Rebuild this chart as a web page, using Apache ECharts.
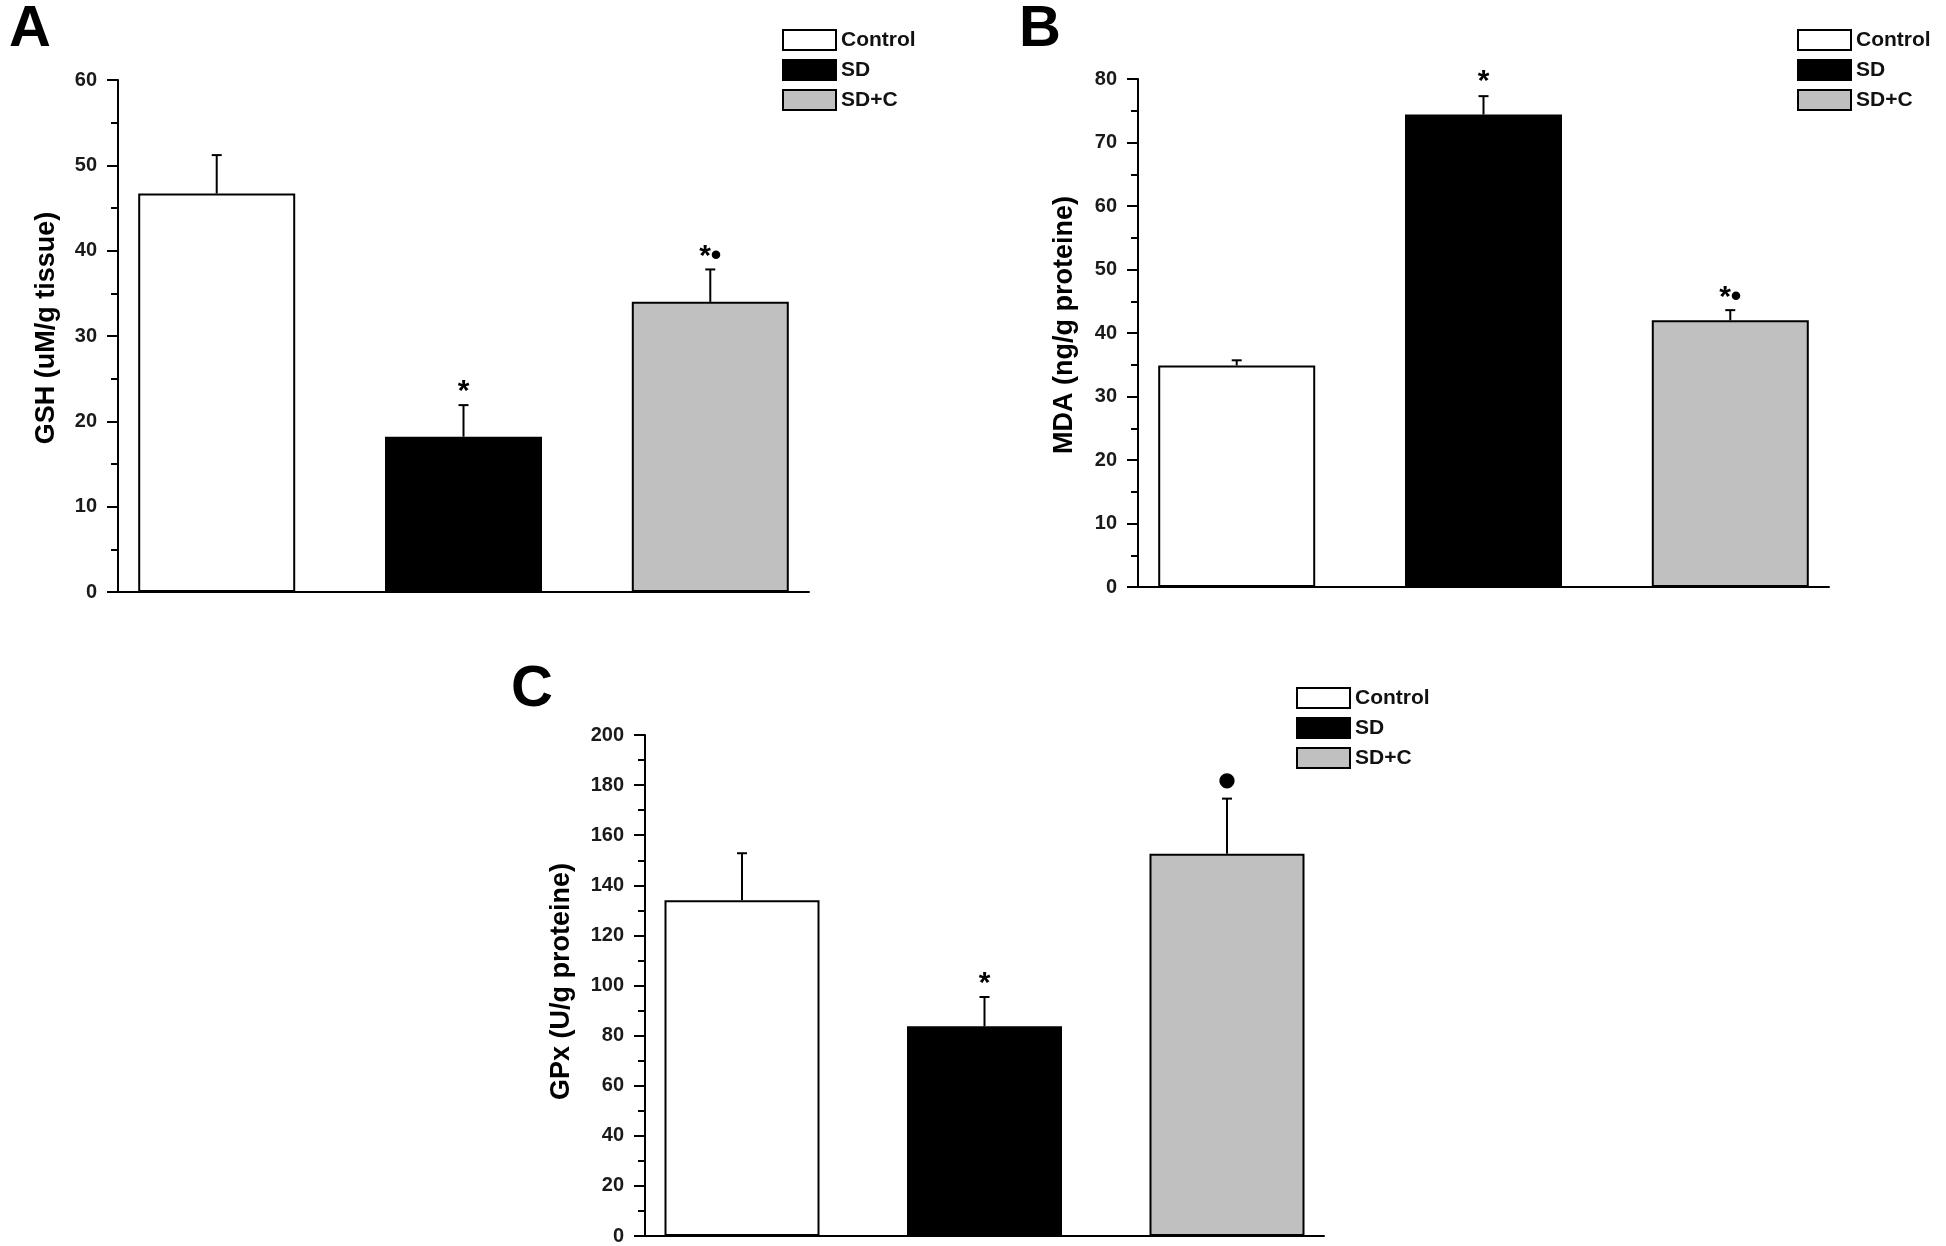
<!DOCTYPE html>
<html>
<head>
<meta charset="utf-8">
<script src="https://cdn.jsdelivr.net/npm/echarts@6/dist/echarts.min.js"></script>
<style>
html,body{margin:0;padding:0;background:#fff;}
#chart{width:1946px;height:1246px;}
</style>
</head>
<body>
<div id="chart"></div>
<script>
// ---- data ----
var categories = ['Control', 'SD', 'SD+C'];
var groupX = [1, 2, 3];

var gshMean = [46.7, 18.2, 34.0];
var gshErr  = [4.5, 3.7, 3.8];
var gshMarkText = ['', '*', '*\u2022'];
var gshMarkY    = [null, 24.3, 40.1];

var mdaMean = [34.9, 74.4, 42.0];
var mdaErr  = [0.8, 2.9, 1.6];
var mdaMarkText = ['', '*', '*\u2022'];
var mdaMarkY    = [null, 80.7, 46.7];

var gpxMean = [134.0, 83.7, 152.6];
var gpxErr  = [18.8, 11.7, 22.0];
var gpxMarkText = ['', '*', '\u25CF'];
var gpxMarkY    = [null, 103.6, 181.8];

var panelLetters = ['A', 'B', 'C'];
var yNames = ['GSH (uM/g tissue)', 'MDA (ng/g proteine)', 'GPx (U/g proteine)'];
var yMax = [60, 80, 200];
var yInterval = [10, 10, 20];

// ---- styling ----
var FONT = '"Liberation Sans", Arial, sans-serif';
var fills = ['#ffffff', '#000000', '#c0c0c0'];

var panels = [
  {mean: gshMean, err: gshErr, markText: gshMarkText, markY: gshMarkY,
   grid: {left: 118, top: 80, width: 691, height: 512},
   nameGap: 58, namePad: 16, legend: {left: 777, top: 24}, barWidth: 157,
   title: {left: 4, top: -4}},
  {mean: mdaMean, err: mdaErr, markText: mdaMarkText, markY: mdaMarkY,
   grid: {left: 1138, top: 79, width: 691, height: 508},
   nameGap: 60, namePad: 16, legend: {left: 1792, top: 24}, barWidth: 157,
   title: {left: 1014, top: -4}},
  {mean: gpxMean, err: gpxErr, markText: gpxMarkText, markY: gpxMarkY,
   grid: {left: 645, top: 735, width: 679, height: 502},
   nameGap: 70, namePad: 8, legend: {left: 1291, top: 682}, barWidth: 155,
   title: {left: 506, top: 656}}
];

var option = {
  animation: false,
  backgroundColor: '#ffffff',
  title: [], grid: [], xAxis: [], yAxis: [], legend: [], series: []
};

panels.forEach(function (p, i) {
  option.title.push({
    text: panelLetters[i], left: p.title.left, top: p.title.top,
    textStyle: {fontFamily: FONT, fontSize: 58, fontWeight: 'bold', color: '#000'}
  });
  option.grid.push({left: p.grid.left, top: p.grid.top, width: p.grid.width, height: p.grid.height});
  option.xAxis.push({
    type: 'value', gridIndex: i, min: 0.6, max: 3.4,
    splitLine: {show: false}, axisTick: {show: false}, axisLabel: {show: false},
    axisLine: {show: true, onZero: false, lineStyle: {color: '#000', width: 2}}
  });
  option.yAxis.push({
    type: 'value', gridIndex: i, min: 0, max: yMax[i], interval: yInterval[i],
    name: yNames[i], nameLocation: 'middle', nameGap: p.nameGap,
    nameTextStyle: {fontFamily: FONT, fontSize: 27, fontWeight: 'bold', color: '#000',
                    padding: [0, 0, 0, p.namePad]},
    splitLine: {show: false},
    axisLine: {show: true, lineStyle: {color: '#000', width: 2}},
    axisTick: {show: true, inside: false, length: 11, lineStyle: {color: '#000', width: 2}},
    minorTick: {show: true, splitNumber: 2, length: 7, lineStyle: {color: '#000', width: 2}},
    axisLabel: {margin: 21, fontFamily: FONT, fontSize: 20, fontWeight: 'bold', color: '#1a1a1a'}
  });
  option.legend.push({
    data: categories.slice(), left: p.legend.left, top: p.legend.top,
    orient: 'vertical', icon: 'rect', itemWidth: 53, itemHeight: 20, itemGap: 8,
    selectedMode: false,
    textStyle: {fontFamily: FONT, fontSize: 21, fontWeight: 'bold', color: '#111', lineHeight: 22}
  });
  categories.forEach(function (c, j) {
    option.series.push({
      type: 'bar', name: c, xAxisIndex: i, yAxisIndex: i,
      barWidth: p.barWidth, barGap: '-100%',
      itemStyle: {color: fills[j], borderColor: '#000', borderWidth: 2},
      data: [[groupX[j], p.mean[j]]]
    });
  });
  // error bars
  option.series.push({
    type: 'custom', xAxisIndex: i, yAxisIndex: i, z: 5,
    encode: {x: 0, y: 1},
    data: groupX.map(function (x, j) { return [x, p.mean[j], p.err[j]]; }),
    renderItem: function (params, api) {
      var x = api.value(0), m = api.value(1), e = api.value(2);
      var a = api.coord([x, m]);
      var b = api.coord([x, m + e]);
      var st = {stroke: '#000', lineWidth: 2};
      return {type: 'group', children: [
        {type: 'line', shape: {x1: a[0], y1: a[1], x2: b[0], y2: b[1]}, style: st},
        {type: 'line', shape: {x1: b[0] - 5, y1: b[1], x2: b[0] + 5, y2: b[1]}, style: st}
      ]};
    }
  });
  // significance marks
  var markData = [];
  var markTexts = [];
  groupX.forEach(function (x, j) {
    if (p.markY[j] != null) { markData.push([x, p.markY[j]]); markTexts.push(p.markText[j]); }
  });
  option.series.push({
    type: 'custom', xAxisIndex: i, yAxisIndex: i, z: 6,
    encode: {x: 0, y: 1},
    data: markData,
    renderItem: function (params, api) {
      var pt = api.coord([api.value(0), api.value(1)]);
      var t = markTexts[params.dataIndex];
      var isDot = t === '\u25CF';
      return {type: 'text', x: pt[0], y: pt[1] + (isDot ? 0 : 7), style: {
        text: t, fill: '#000', align: 'center', verticalAlign: 'middle',
        font: isDot ? 'bold 20px "DejaVu Sans", sans-serif' : 'bold 30px ' + FONT
      }};
    }
  });
});

var chart = echarts.init(document.getElementById('chart'), null, {renderer: 'canvas'});
chart.setOption(option);
</script>
</body>
</html>
